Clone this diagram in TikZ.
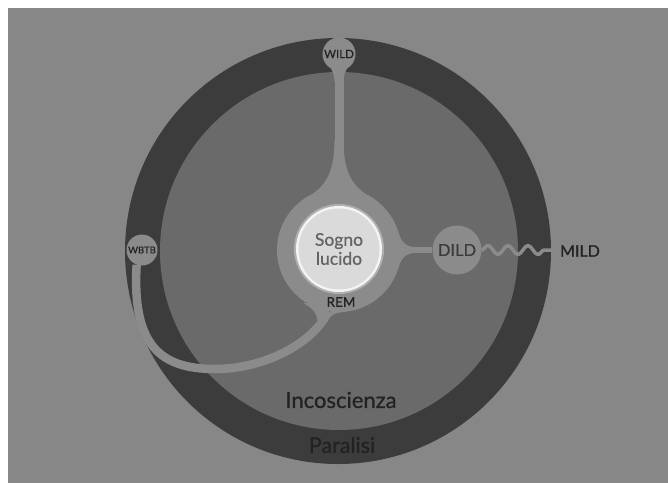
\documentclass[tikz,border=0pt]{standalone}
\usepackage{fontspec}
\setmainfont{Lato}[FakeBold=0.7]
\usetikzlibrary{decorations.pathmorphing}
\definecolor{bgc}{HTML}{878787}
\definecolor{ringc}{HTML}{3C3C3C}
\definecolor{innerc}{HTML}{6A6A6A}
\definecolor{lightc}{HTML}{8B8B8B}
\definecolor{corec}{HTML}{DADADA}
\definecolor{rimc}{HTML}{F4F4F4}
\definecolor{glowc}{HTML}{B0B0B0}
\definecolor{inkc}{HTML}{222222}
\definecolor{midink}{HTML}{3A3A3A}
\definecolor{softc}{HTML}{646464}
\pgfdeclarelayer{back}
\pgfdeclarelayer{links}
\pgfsetlayers{back,links,main}
\newcommand\fsz[1]{\fontsize{#1}{#1}\selectfont}
\begin{document}
\begin{tikzpicture}[x=1pt,y=-1pt,
  blob/.style={circle,fill=lightc,inner sep=0pt,text=inkc},
  lbl/.style={inner sep=0pt,text=inkc},
  link/.style={draw=lightc},
  fillet/.style={fill=lightc}]
\useasboundingbox (0,0) rectangle (668,483);
\begin{pgfonlayer}{back}
\fill[white] (0,0) rectangle (668,483);
\fill[bgc] (8,8) rectangle (668,483);
\fill[ringc] (338,251) circle[radius=213];
\fill[innerc] (339,251) circle[radius=179];
\end{pgfonlayer}

% nodes
\node[blob,minimum size=124pt] (rem) at (339,250) {};
\fill[glowc] (339,249) circle[radius=45];
\fill[rimc] (339,249) circle[radius=43];
\node[circle,fill=corec,minimum size=81pt,inner sep=0pt,text=softc,align=center,font={\fontsize{17.5}{19}\selectfont}] (sogno) at (339,249) {Sogno\\lucido};
\node[lbl,font=\fsz{13.5}] (remtext) at (341,302) {REM};
\node[blob,minimum size=33pt,font=\fsz{11.5}] (wild) at (339,54) {WILD};
\node[blob,minimum size=31pt,font=\fsz{9.5}] (wbtb) at (142,250) {WBTB};
\node[blob,minimum size=49pt,font=\fsz{16.5},text=midink] (dild) at (457,250) {DILD};
\node[lbl,font=\fsz{16}] (mild) at (580,251) {MILD};
\node[lbl,font=\fsz{22}] (incos) at (341,400) {Incoscienza};
\node[lbl,font=\fsz{21.5}] (paral) at (342,445) {Paralisi};
\coordinate (bend) at (215,369);
\coordinate (waveend) at (552,250);

% connectors
\begin{pgfonlayer}{links}
\draw[link,line width=9pt] (wild) -- (rem);
\draw[link,line width=6pt] (rem) -- (dild);
\draw[link,line width=8.5pt] (wbtb.250) .. controls (132,345) and (160,369) .. (bend)
  .. controls (268,369) and (316,340) .. (rem.260);
\draw[link,line width=3.5pt,line join=round,decorate,decoration={snake,segment length=20pt,amplitude=4.5pt}] (dild.east) -- (waveend);
% fillets
\fill[fillet] (334.5,140) .. controls (334.5,172) and (326,184) .. (312.8,193.8)
  -- (365.2,193.8) .. controls (352,184) and (343.5,172) .. (343.5,140) -- cycle;
\fill[fillet] (334.5,82) .. controls (334.5,75) and (332.5,71) .. (330.75,68.3)
  -- (347.25,68.3) .. controls (345.5,71) and (343.5,75) .. (343.5,82) -- cycle;
\fill[fillet] (397.3,228.8) .. controls (401,242) and (405,247) .. (416,247)
  -- (416,253) .. controls (405,253) and (401,258) .. (397.3,271.2) -- cycle;
\fill[fillet] (303,303) .. controls (310,307) and (316,310) .. (317.5,321) -- (326,322) -- (330,305) -- cycle;
\fill[fillet] (327,321) .. controls (330,315) and (335,313) .. (346,311.5) -- (333,305) -- cycle;
\end{pgfonlayer}
\end{tikzpicture}
\end{document}
